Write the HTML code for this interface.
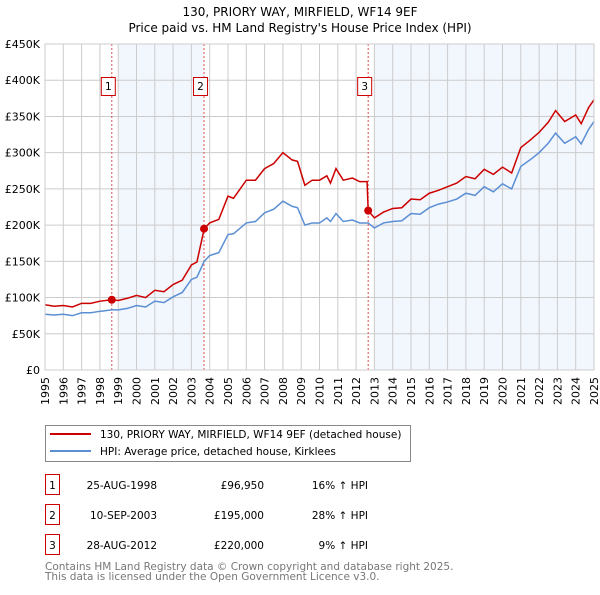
<!DOCTYPE html>
<html><head><meta charset="utf-8"><style>
body{margin:0;background:#fff}
svg{font-family:"DejaVu Sans","Liberation Sans",sans-serif}
</style></head><body>
<svg id="c" width="600" height="590" viewBox="0 0 600 590">
<text x="300" y="16" text-anchor="middle" font-size="12">130, PRIORY WAY, MIRFIELD, WF14 9EF</text>
<text x="300" y="32" text-anchor="middle" font-size="12">Price paid vs. HM Land Registry's House Price Index (HPI)</text>
<g id="plot"></g>
<rect x="45.5" y="425.5" width="365" height="36" fill="#fff" stroke="#888"/>
<line x1="50" y1="434" x2="91" y2="434" stroke="#cc0000" stroke-width="2"/>
<text x="100" y="438" font-size="10.5">130, PRIORY WAY, MIRFIELD, WF14 9EF (detached house)</text>
<line x1="50" y1="451" x2="91" y2="451" stroke="#5b8fd4" stroke-width="2"/>
<text x="100" y="455" font-size="10.5">HPI: Average price, detached house, Kirklees</text>
<g id="tbl" font-size="10.5"></g>
<text x="45" y="570" font-size="10.5" fill="#777">Contains HM Land Registry data © Crown copyright and database right 2025.</text>
<text x="45" y="580" font-size="10.5" fill="#777">This data is licensed under the Open Government Licence v3.0.</text>
</svg>
<script>
const times=[1995,1995.5,1996,1996.5,1997,1997.5,1998,1998.65,1999,1999.5,2000,2000.5,2001,2001.5,2002,2002.5,2003,2003.3,2003.7,2004,2004.5,2005,2005.3,2006,2006.5,2007,2007.5,2008,2008.5,2008.8,2009.2,2009.6,2010,2010.4,2010.6,2010.9,2011.3,2011.8,2012.2,2012.6,2012.66,2013,2013.5,2014,2014.5,2015,2015.5,2016,2016.5,2017,2017.5,2018,2018.5,2019,2019.5,2020,2020.5,2021,2021.5,2022,2022.5,2022.9,2023.4,2024,2024.3,2024.7,2025];
const hpiValues=[77,76,77,75,79,79,81,83,83,85,89,87,95,93,101,107,125,128,150,158,162,187,188,203,205,217,222,233,226,224,200,203,203,210,205,216,205,207,203,203,203,196,203,205,206,216,215,224,229,232,236,244,241,253,246,257,250,281,290,300,313,327,313,322,312,332,343];
const priceValues=[90,88,89,87,92,92,95,97,96,99,103,100,110,108,118,124,145,149,195,203,208,240,237,262,262,278,285,300,290,288,255,262,262,268,258,278,262,265,260,260,220,210,218,223,224,236,235,244,248,253,258,267,264,277,270,280,272,307,317,328,342,358,343,352,340,362,373];
const yTicks=[0,50,100,150,200,250,300,350,400,450];
const yTickLabels=["£0","£50K","£100K","£150K","£200K","£250K","£300K","£350K","£400K","£450K"];
const xYears=[1995,1996,1997,1998,1999,2000,2001,2002,2003,2004,2005,2006,2007,2008,2009,2010,2011,2012,2013,2014,2015,2016,2017,2018,2019,2020,2021,2022,2023,2024,2025];
const saleTimes=[1998.65,2003.69,2012.66];
const salePrices=[96.95,195,220];
const saleLabels=["1","2","3"];
const saleDates=["25-AUG-1998","10-SEP-2003","28-AUG-2012"];
const salePriceText=["£96,950","£195,000","£220,000"];
const saleHpiText=["16% ↑ HPI","28% ↑ HPI","9% ↑ HPI"];
const shadeStarts=[1999,2013];
const shadeEnds=[2003.69,2025];

const NS="http://www.w3.org/2000/svg";
const L=45,R=594,T=44,B=370;
const xs=t=>L+(t-1995)/(30)*(R-L);
const ys=v=>B-v/450*(B-T);
function mk(p,tag,a){const e=document.createElementNS(NS,tag);for(const k in a)e.setAttribute(k,a[k]);p.appendChild(e);return e;}
const g=document.getElementById('plot');
for(let i=0;i<shadeStarts.length;i++){
 const r=mk(g,'rect',{x:xs(shadeStarts[i]),y:T,width:xs(shadeEnds[i])-xs(shadeStarts[i]),height:B-T,fill:'#eef3fc',opacity:0.75});
 
 
}
xYears.forEach(y=>{
 const l=mk(g,'line',{x1:xs(y),x2:xs(y),y1:T,y2:B,stroke:'#ccc','stroke-width':1});
 
 
 const t=mk(g,'text',{x:0,y:0,transform:`translate(${xs(y)+4},${B+7}) rotate(-90)`,'text-anchor':'end','font-size':11});
 t.textContent=y;
 
 
});
yTicks.forEach((v,i)=>{
 const l=mk(g,'line',{x1:L,x2:R,y1:ys(v),y2:ys(v),stroke:'#ccc','stroke-width':1});
 
 
 const t=mk(g,'text',{x:40,y:ys(v)+4,'text-anchor':'end','font-size':11});
 t.textContent=yTickLabels[i];
 
 
});
saleTimes.forEach((s,i)=>{
 const l=mk(g,'line',{x1:xs(s),x2:xs(s),y1:T,y2:B,stroke:'#e05050','stroke-width':1,'stroke-dasharray':'2,2'});
 
 
 const b=mk(g,'rect',{x:xs(s)-10.5,y:77.5,width:14,height:18,fill:'#fff',stroke:'#cc0000'});
 
 
 const t=mk(g,'text',{x:xs(s)-3.5,y:90,'text-anchor':'middle','font-size':10.5});
 t.textContent=saleLabels[i];
 
 
});
const hp=mk(g,'polyline',{points:times.map((t,i)=>xs(t)+','+ys(hpiValues[i])).join(' '),fill:'none',stroke:'#5b8fd4','stroke-width':1.5});


const pp=mk(g,'polyline',{points:times.map((t,i)=>xs(t)+','+ys(priceValues[i])).join(' '),fill:'none',stroke:'#cc0000','stroke-width':1.5});


saleTimes.forEach((s,i)=>{
 const c=mk(g,'circle',{cx:xs(s),cy:ys(salePrices[i]),r:4,fill:'#cc0000'});
 
 
});
const fr=mk(g,'rect',{x:L,y:T,width:R-L,height:B-T,fill:'none',stroke:'#ccc'});


const tb=document.getElementById('tbl');
saleLabels.forEach((lab,i)=>{
 const y=485+i*30;
 const b=mk(tb,'rect',{x:45.5,y:y-10.5,width:14,height:20,fill:'#fff',stroke:'#cc0000'});
 
 
 const a=mk(tb,'text',{x:52.5,y:y+4,'text-anchor':'middle'});a.textContent=lab;
 
 
 const d=mk(tb,'text',{x:157,y:y+4,'text-anchor':'end'});d.textContent=saleDates[i];
 
 
 const p=mk(tb,'text',{x:264,y:y+4,'text-anchor':'end'});p.textContent=salePriceText[i];
 
 
 const h=mk(tb,'text',{x:368,y:y+4,'text-anchor':'end'});h.textContent=saleHpiText[i];
 
 
});
</script>
</body></html>
